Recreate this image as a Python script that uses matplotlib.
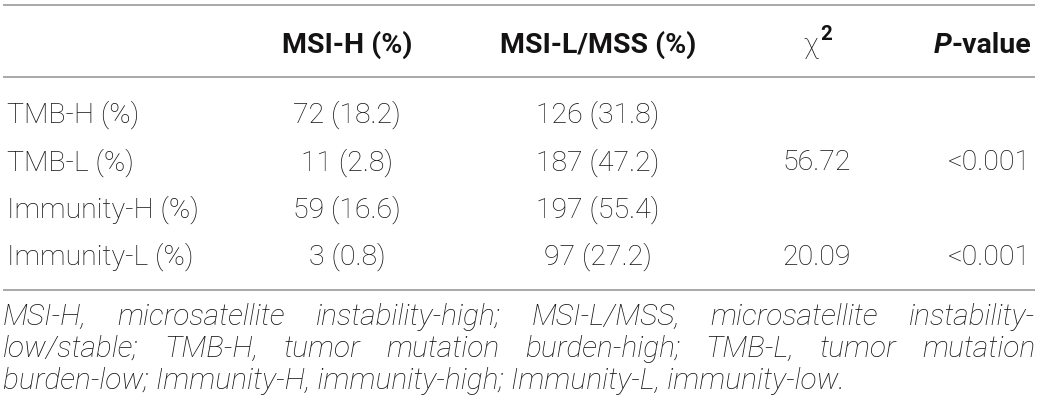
import matplotlib
matplotlib.use("Agg")
import matplotlib.pyplot as plt

# Table contents
row_labels = ["TMB-H (%)", "TMB-L (%)", "Immunity-H (%)", "Immunity-L (%)"]
msi_h_n = [72, 11, 59, 3]
msi_h_pct = [18.2, 2.8, 16.6, 0.8]
msi_l_n = [126, 187, 197, 97]
msi_l_pct = [31.8, 47.2, 55.4, 27.2]
chi2 = ["", "56.72", "", "20.09"]
pvals = ["", "<0.001", "", "<0.001"]
footnote = [
    "MSI-H, microsatellite instability-high; MSI-L/MSS, microsatellite instability-",
    "low/stable; TMB-H, tumor mutation burden-high; TMB-L, tumor mutation",
    "burden-low; Immunity-H, immunity-high; Immunity-L, immunity-low.",
]

W, H = 1040, 413
txt_color = "#141213"
line_color = "#a8a8a8"
fam = ["Roboto", "DejaVu Sans"]
fs = 20.5

fig = plt.figure(figsize=(W / 100, H / 100), dpi=100)
ax = fig.add_axes([0, 0, 1, 1])
ax.set_xlim(0, W)
ax.set_ylim(H, 0)
ax.axis("off")

# horizontal rules
for y in [5, 77, 290]:
    ax.plot([3, 1035], [y, y], color=line_color, lw=1.4, solid_capstyle="butt")

col_msi_h = 347
col_msi_l = 598
col_chi = 817
col_p = 1031

# header
hy = 53
kw = dict(color=txt_color, family=fam, fontsize=fs, va="baseline")
ax.text(col_msi_h, hy, "MSI-H (%)", ha="center", fontweight="bold", **kw)
ax.text(col_msi_l, hy, "MSI-L/MSS (%)", ha="center", fontweight="bold", **kw)
ax.text(col_chi + 1, hy, "\u03c7", ha="right", fontweight="light", **kw)
ax.text(col_chi + 3, hy - 13, "2", ha="left", fontweight="bold", color=txt_color,
        family=fam, fontsize=fs * 0.72, va="baseline")
pv = ax.text(col_p, hy, "-value", ha="right", fontweight="bold", **kw)
fig.canvas.draw()
r = fig.canvas.get_renderer()
bb = pv.get_window_extent(r)
ax.text(bb.x0, hy, "P", ha="right", fontweight="bold", style="italic", **kw)

# body rows
y0, dy = 123, 47.3
for i, lab in enumerate(row_labels):
    y = y0 + i * dy
    ax.text(7, y, lab, ha="left", fontweight="light", **kw)
    ax.text(col_msi_h, y, f"{msi_h_n[i]} ({msi_h_pct[i]})", ha="center", fontweight="light", **kw)
    ax.text(col_msi_l, y, f"{msi_l_n[i]} ({msi_l_pct[i]})", ha="center", fontweight="light", **kw)
    if chi2[i]:
        ax.text(col_chi, y, chi2[i], ha="center", fontweight="light", **kw)
    if pvals[i]:
        ax.text(col_p, y, pvals[i], ha="right", fontweight="light", **kw)

# footnote, justified except the last line
fkw = dict(color=txt_color, family=fam, fontsize=21.5, va="baseline",
           style="italic", fontweight="light")
left, right = 3, 1035
for j, line in enumerate(footnote):
    y = 325 + j * 32
    if j == len(footnote) - 1:
        ax.text(left, y, line, ha="left", **fkw)
        continue
    words = line.split(" ")
    objs = [ax.text(0, y, w, ha="left", **fkw) for w in words]
    fig.canvas.draw()
    widths = [o.get_window_extent(r).width for o in objs]
    gap = (right - left - sum(widths)) / (len(words) - 1)
    x = left
    for o, wd in zip(objs, widths):
        o.set_x(x)
        x += wd + gap

fig.savefig("out.png", dpi=100)
